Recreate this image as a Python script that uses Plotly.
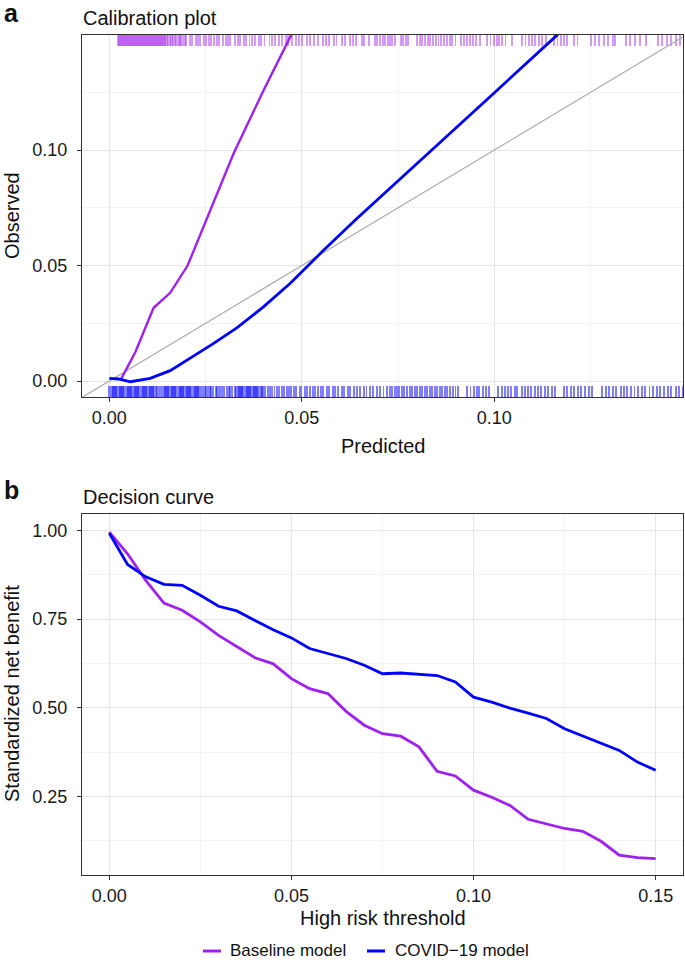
import plotly.graph_objects as go

# ---------------- data ----------------
# Calibration curves (predicted vs observed)
cal_base_pred = [0.0029, 0.0068, 0.0115, 0.0158, 0.0203, 0.0247, 0.0323, 0.0401, 0.0470, 0.0500]
cal_base_obs = [0.0004, 0.0127, 0.0317, 0.0382, 0.0499, 0.0680, 0.0986, 0.1260, 0.1498, 0.1590]

cal_covid_pred = [0.0, 0.0024, 0.0055, 0.0106, 0.0158, 0.0210, 0.0271, 0.0332, 0.0401, 0.0470,
                  0.0557, 0.0643, 0.0800, 0.0998, 0.1158, 0.1200]
cal_covid_obs = [0.0012, 0.0009, -0.0003, 0.0012, 0.0045, 0.0098, 0.0163, 0.0231, 0.0322, 0.0423,
                 0.0567, 0.0704, 0.0945, 0.1245, 0.1490, 0.1555]

ref_line = [-0.01, 0.16]  # identity (perfect calibration) line, y = x

# Rug: predicted risks of individual patients (units of 1e-3)
rug_base_milli = [
    2.3, 2.55, 2.8, 3.05, 3.3, 3.55, 3.8, 4.05, 4.3, 4.55, 4.8, 5.05, 5.3, 5.55, 5.8, 6.05, 6.3,
    6.55, 6.8, 7.05, 7.3, 7.55, 7.8, 8.05, 8.3, 8.55, 8.8, 9.05, 9.3, 9.55, 9.8, 10.05, 10.3,
    10.55, 10.8, 11.05, 11.3, 11.55, 11.8, 12.05, 12.3, 12.55,
    12.9, 13.1, 13.4, 13.6, 13.9, 14.2, 14.4, 14.8, 15.1, 15.3, 15.7, 16.0, 16.4, 16.6, 17.0,
    17.3, 17.7, 18.0, 18.4, 18.7, 19.2, 19.6, 20.0,
    20.9, 21.5, 22.4, 23.0, 23.6, 24.5, 25.1, 25.9, 26.4, 27.3, 28.0, 28.6, 29.5, 30.2, 30.9,
    31.4, 32.6, 33.3, 34.0, 34.9, 35.5, 36.4, 37.0, 37.8, 38.9, 39.5, 40.3, 41.6, 42.2, 43.0,
    44.1, 44.8, 45.9, 46.5, 47.4, 48.6, 49.3, 50.1, 51.4, 52.0, 53.2, 54.1, 55.5, 56.2, 57.0,
    58.3, 59.0, 60.4, 61.1, 62.5, 63.3, 64.0, 65.6, 66.2, 67.4, 68.9, 69.6,
    70.4, 71.0, 71.6, 72.3, 72.9, 73.5, 74.1, 75.7, 76.3, 77.0, 77.6,
    80.0, 80.6, 81.3, 81.9, 82.7, 83.4, 84.0, 84.9, 85.5, 86.2, 87.0, 87.7, 88.4, 89.1, 89.9,
    91.3, 92.0, 92.9, 93.6, 94.4, 95.2, 96.2, 98.2, 99.0, 99.9, 100.6, 101.3, 102.0, 102.9, 104.6,
    107.3, 108.1, 109.0, 109.8, 110.6, 111.5, 112.3, 113.5, 115.5, 116.4, 117.3, 118.2, 118.9,
    120.7, 121.6, 125.0, 126.1, 127.3, 128.4, 129.6, 130.8, 131.3, 134.1, 135.2, 136.6, 137.9,
    139.5, 142.4, 143.6, 144.9, 146.0, 147.2, 148.2,
]
rug_covid_milli = [
    0.0, 0.3, 0.6, 0.9, 1.2, 1.5, 1.8, 2.1, 2.4, 2.7, 3.0, 3.3, 3.6, 3.9, 4.2, 4.5, 4.8, 5.1,
    5.4, 5.7, 6.0, 6.3, 6.6, 6.9, 7.2, 7.5, 7.8, 8.1, 8.4, 8.7, 9.0, 9.3, 9.6, 9.9, 10.2, 10.5,
    10.8, 11.1, 11.4, 11.7, 12.0, 12.3, 12.9, 13.5, 13.8, 14.1, 14.4, 14.7, 15.0, 15.3, 15.6,
    15.9, 16.2, 16.5, 16.8, 17.1, 17.4, 17.7, 18.0, 18.3, 18.6, 18.9, 19.2, 19.5, 19.8, 20.1,
    20.4, 20.7, 21.0, 21.3, 21.6, 21.9, 22.2, 22.5, 22.8, 23.1, 23.4,
    23.9, 24.3, 24.8, 25.1, 25.6, 26.2, 26.5, 27.0, 27.6, 27.9, 28.5, 29.1, 29.4, 29.9, 30.5,
    31.0, 31.4, 31.9,
    32.7, 33.0, 33.3, 33.6, 33.9, 34.2, 34.5, 34.8, 35.1, 35.4, 35.7, 36.0, 36.3, 36.6, 36.9,
    37.2, 37.5, 37.8, 38.1, 38.4, 38.7, 39.0, 39.3, 39.6, 39.9,
    40.5, 41.1, 41.8, 42.2, 42.9, 43.6, 44.0, 44.9, 45.3, 46.1, 46.7, 47.2, 48.0, 48.6, 49.4,
    49.9, 50.8, 51.3, 52.0, 52.9, 53.4, 54.2, 55.0, 55.6, 56.5, 57.1, 58.0, 58.7, 59.3, 60.4,
    61.0, 61.9, 62.6, 63.5, 64.4, 65.0, 66.1, 66.8, 67.7, 68.6, 69.5, 70.3, 71.2, 72.0, 72.8,
    73.5, 74.1, 74.8, 75.3, 76.0, 76.6, 77.2, 78.0, 78.5, 79.3, 79.9, 80.6, 81.1, 81.9, 82.5,
    83.2, 83.8, 84.6, 85.1, 85.9, 86.4, 87.2, 87.8, 88.5, 89.3, 89.9, 90.6,
    93.0, 93.8, 94.6, 95.5, 96.1, 97.0, 97.8, 98.7,
    101.0, 101.9, 102.7, 103.6, 104.4, 105.3, 106.0, 107.1, 107.9, 108.8, 109.5, 110.6, 111.4,
    112.2, 113.1, 114.0, 114.9, 115.7,
    118.0, 118.9, 119.8, 120.8, 121.7, 122.6, 123.5, 124.5, 125.3,
    128.0, 128.9, 129.8, 130.9, 131.7, 132.8, 133.6, 134.5, 135.5, 136.4, 137.4, 138.3, 139.2,
    140.3, 141.1, 142.2, 143.0, 144.1, 145.0, 146.0, 147.1, 148.0, 148.9,
]
rug_base = [v / 1000 for v in rug_base_milli]
rug_covid = [v / 1000 for v in rug_covid_milli]

# Decision curve
thresholds = [0.000, 0.005, 0.010, 0.015, 0.020, 0.025, 0.030, 0.035, 0.040, 0.045, 0.050,
              0.055, 0.060, 0.065, 0.070, 0.075, 0.080, 0.085, 0.090, 0.095, 0.100, 0.105,
              0.110, 0.115, 0.120, 0.125, 0.130, 0.135, 0.140, 0.145, 0.150]
snb_base = [0.995, 0.934, 0.859, 0.795, 0.775, 0.742, 0.704, 0.673, 0.641, 0.624, 0.582,
            0.554, 0.540, 0.490, 0.451, 0.427, 0.420, 0.390, 0.321, 0.308, 0.268, 0.248,
            0.225, 0.186, 0.172, 0.160, 0.152, 0.124, 0.085, 0.078, 0.075]
snb_covid = [0.992, 0.904, 0.869, 0.848, 0.845, 0.817, 0.786, 0.773, 0.746, 0.720, 0.697,
             0.667, 0.653, 0.639, 0.620, 0.596, 0.598, 0.594, 0.591, 0.573, 0.530, 0.516,
             0.499, 0.485, 0.470, 0.441, 0.421, 0.401, 0.380, 0.347, 0.324]
ref_thresholds = [0.05, 0.10]

series_names = ["Baseline model", "COVID\u221219 model"]
x_ticks_cal = [0.00, 0.05, 0.10]
y_ticks_cal = [0.00, 0.05, 0.10]
x_ticks_dca = [0.00, 0.05, 0.10, 0.15]
y_ticks_dca = [0.25, 0.50, 0.75, 1.00]

# ---------------- style ----------------
PURPLE = "#A020F0"
BLUE = "#0000FF"
FONT = "Liberation Sans"
W, H = 685, 968
ML, MR, MT, MB = 82, 2, 35, 93

X1_RANGE = [-0.0071, 0.1490]
Y1_RANGE = [-0.0069, 0.1498]
X2_RANGE = [-0.0075, 0.1575]
Y2_RANGE = [0.0290, 1.0460]


def pxx(p):
    return (p - ML) / (W - ML - MR)


def pxy(p):
    return (H - MB - p) / (H - MT - MB)


fig = go.Figure()

# rugs (drawn first, beneath lines)
span1 = Y1_RANGE[1] - Y1_RANGE[0]
rug_len = 0.03 * span1
fig.add_trace(go.Bar(x=rug_base, y=[rug_len] * len(rug_base), base=Y1_RANGE[1] - rug_len,
                     width=0.0005, marker=dict(color="rgba(160,32,240,0.45)", line=dict(width=0)),
                     xaxis="x", yaxis="y", showlegend=False, hoverinfo="skip"))
fig.add_trace(go.Bar(x=rug_covid, y=[rug_len] * len(rug_covid), base=Y1_RANGE[0],
                     width=0.0005, marker=dict(color="rgba(0,0,255,0.5)", line=dict(width=0)),
                     xaxis="x", yaxis="y", showlegend=False, hoverinfo="skip"))

# identity line
fig.add_trace(go.Scatter(x=ref_line, y=ref_line, mode="lines",
                         line=dict(color="#a6a6a6", width=1.1),
                         xaxis="x", yaxis="y", showlegend=False, hoverinfo="skip"))

# calibration curves
fig.add_trace(go.Scatter(x=cal_base_pred, y=cal_base_obs, mode="lines",
                         line=dict(color=PURPLE, width=2.4), xaxis="x", yaxis="y",
                         showlegend=False))
fig.add_trace(go.Scatter(x=cal_covid_pred, y=cal_covid_obs, mode="lines",
                         line=dict(color=BLUE, width=2.8), xaxis="x", yaxis="y",
                         showlegend=False))

# decision curves
fig.add_trace(go.Scatter(x=thresholds, y=snb_base, mode="lines", name=series_names[0],
                         line=dict(color=PURPLE, width=2.8), xaxis="x2", yaxis="y2",
                         showlegend=False))
fig.add_trace(go.Scatter(x=thresholds, y=snb_covid, mode="lines", name=series_names[1],
                         line=dict(color=BLUE, width=2.8), xaxis="x2", yaxis="y2",
                         showlegend=False))

for t in ref_thresholds:
    fig.add_shape(type="line", xref="x2", yref="y2 domain", x0=t, x1=t, y0=0, y1=1,
                  line=dict(color="#7a7a7a", width=1, dash="4px,3px"), layer="below")

axis_common = dict(
    showline=True, mirror=True, linecolor="#333333", linewidth=1,
    ticks="outside", ticklen=4, tickcolor="#333333", tickwidth=1,
    tickfont=dict(family=FONT, size=18, color="#1a1a1a"),
    showgrid=True, gridcolor="#e6e6e6", gridwidth=1, zeroline=False,
    tickformat=".2f", tickmode="array", automargin=False,
)
xa = dict(axis_common, ticklabelstandoff=0)
ya = dict(axis_common, ticklabelstandoff=6)

fig.update_layout(
    width=W, height=H,
    margin=dict(l=ML, r=MR, t=MT, b=MB, autoexpand=False),
    paper_bgcolor="white", plot_bgcolor="white",
    barmode="overlay", bargap=0, showlegend=False,
    font=dict(family=FONT, color="#1a1a1a"),
    xaxis=dict(domain=[0, 1], anchor="y", range=X1_RANGE, tickvals=x_ticks_cal,
               minor=dict(tickmode="array", tickvals=[0.025, 0.075, 0.125], showgrid=True,
                          gridcolor="#f3f3f3", ticks=""), **xa),
    yaxis=dict(domain=[pxy(397), 1], anchor="x", range=Y1_RANGE, tickvals=y_ticks_cal,
               minor=dict(tickmode="array", tickvals=[0.025, 0.075, 0.125], showgrid=True,
                          gridcolor="#f3f3f3", ticks=""), **ya),
    xaxis2=dict(domain=[0, 1], anchor="y2", range=X2_RANGE, tickvals=x_ticks_dca,
                minor=dict(tickmode="array", tickvals=[0.025, 0.075, 0.125], showgrid=True,
                           gridcolor="#f3f3f3", ticks=""), **xa),
    yaxis2=dict(domain=[0, pxy(514)], anchor="x2", range=Y2_RANGE, tickvals=y_ticks_dca,
                minor=dict(tickmode="array", tickvals=[0.125, 0.375, 0.625, 0.875], showgrid=True,
                           gridcolor="#f3f3f3", ticks=""), **ya),
)

ann = []


def text(x, y, s, size, bold=False, angle=0, xanchor="center"):
    ann.append(dict(x=pxx(x), y=pxy(y), xref="paper", yref="paper", text=f"<b>{s}</b>" if bold else s,
                    showarrow=False, textangle=angle, xanchor=xanchor, yanchor="middle",
                    font=dict(family=FONT, size=size, color="#111111")))


text(2, 13, "a", 25, bold=True, xanchor="left")
text(81, 18, "Calibration plot", 20, xanchor="left")
text(2, 490, "b", 25, bold=True, xanchor="left")
text(81, 497, "Decision curve", 20, xanchor="left")
text(383, 446, "Predicted", 20)
text(12, 216, "Observed", 20, angle=-90)
text(383, 918, "High risk threshold", 20)
text(12, 694, "Standardized net benefit", 20, angle=-90)

# legend (manual, below bottom panel)
legend_y = 951
legend_items = [(203, 221, 228, PURPLE), (367, 385, 393, BLUE)]
for (x0, x1, xt, col), name in zip(legend_items, series_names):
    fig.add_shape(type="line", xref="paper", yref="paper", x0=pxx(x0), x1=pxx(x1),
                  y0=pxy(legend_y), y1=pxy(legend_y), line=dict(color=col, width=3))
    text(xt, legend_y, name, 17, xanchor="left")

fig.update_layout(annotations=ann)

fig.write_html(
    "out.html",
    config={"displayModeBar": False},
    post_script="document.body.style.margin='0';document.body.style.padding='0';",
)
